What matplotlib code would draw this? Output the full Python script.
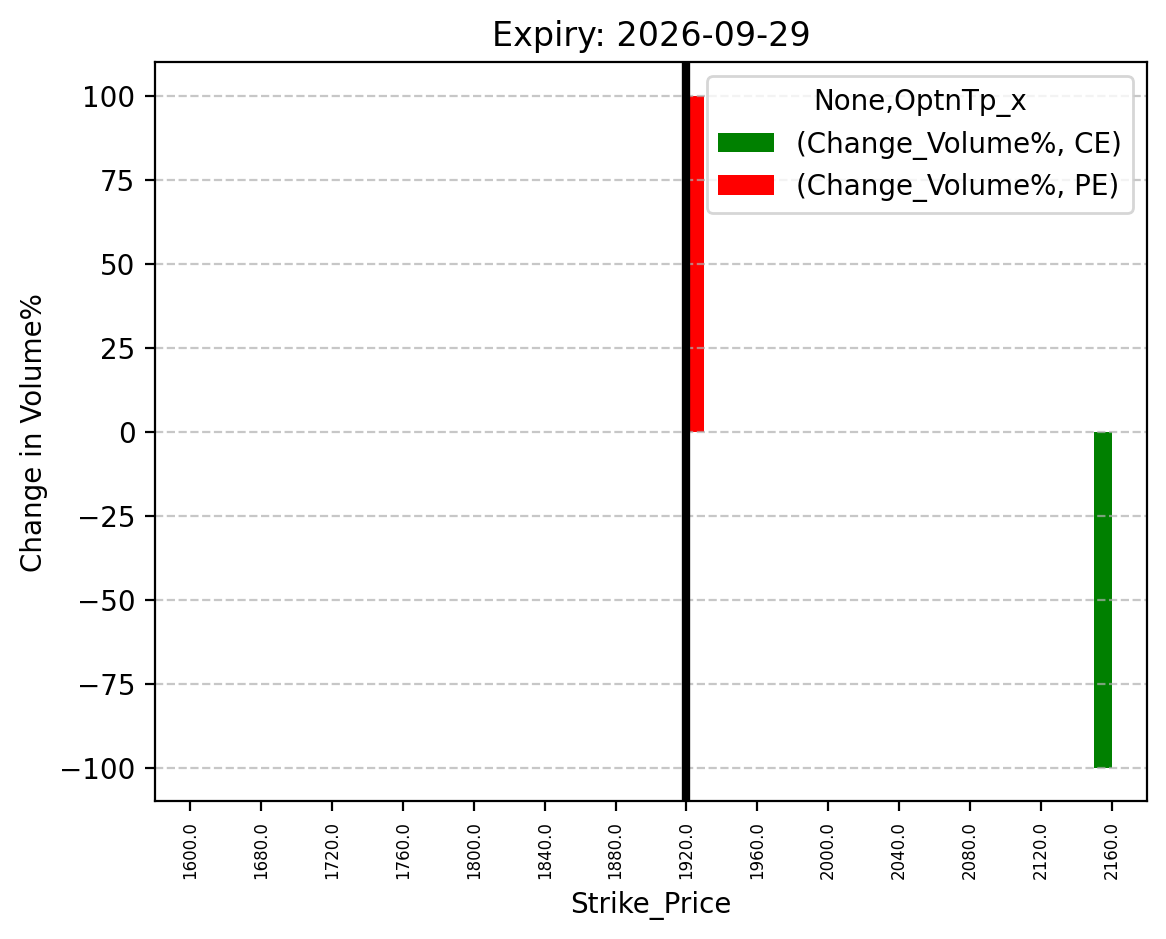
import numpy as np
import pandas as pd
import matplotlib
matplotlib.use("Agg")
import matplotlib.pyplot as plt

strikes = [1600.0, 1680.0, 1720.0, 1760.0, 1800.0, 1840.0, 1880.0,
           1920.0, 1960.0, 2000.0, 2040.0, 2080.0, 2120.0, 2160.0]
ce_change = [np.nan] * 13 + [-100.0]
pe_change = [np.nan] * 7 + [100.0] + [np.nan] * 6
spot_strike = 1920.0

cols = pd.MultiIndex.from_tuples(
    [("Change_Volume%", "CE"), ("Change_Volume%", "PE")], names=[None, "OptnTp_x"])
df = pd.DataFrame(np.column_stack([ce_change, pe_change]), index=strikes, columns=cols)
df.index.name = "Strike_Price"

fig, ax = plt.subplots(figsize=(6.4, 4.8), dpi=200)
df.plot(kind="bar", ax=ax, color=["green", "red"])
ax.axvline(strikes.index(spot_strike), color="black", linewidth=3)
ax.set_title("Expiry: 2026-09-29")
ax.set_xlabel("Strike_Price")
ax.set_ylabel("Change in Volume%")
ax.tick_params(axis="x", labelsize=6, labelrotation=90)
ax.grid(axis="y", linestyle="--", alpha=0.7)
ax.legend(title="None,OptnTp_x", loc="upper right")
plt.savefig("out.png", dpi=200, bbox_inches="tight")
